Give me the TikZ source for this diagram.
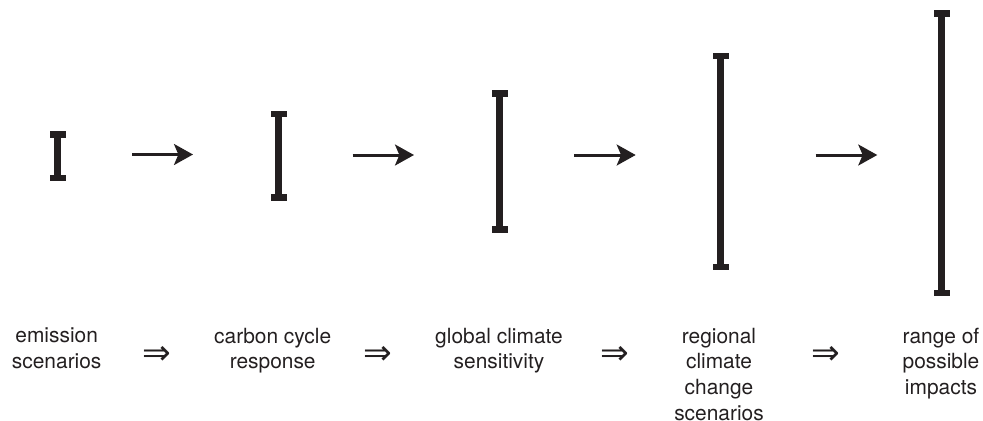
\documentclass[tikz,border=0pt]{standalone}
\usepackage{fontspec}
\setmainfont{TeX Gyre Heros}
\newfontfamily\arrowfont{DejaVu Sans}
\usetikzlibrary{arrows.meta}
\definecolor{ink}{RGB}{35,31,32}
\begin{document}
\begin{tikzpicture}[scale=0.2,
    label/.style={align=center, anchor=north, text=ink, font=\fontsize{11.9}{14.6}\selectfont},
    implies/.style={text=ink, font=\arrowfont\fontsize{19.5}{20}\selectfont},
    flow/.style={ink, line width=1.7pt, -{Stealth[length=10.8pt, width=11.9pt, inset=2.5pt]}}]
            \tikzstyle{every node}+=[inner sep=0pt]
            \useasboundingbox (0,0) rectangle (98.3,-42);
            % error bars: x / top / bottom
            \foreach \x/\t/\b in {5.75/13.1/18.1, 27.87/11.07/20.07, 49.95/9.0/23.27, 72.07/5.27/27.0, 94.17/1.0/29.6} {
                \fill [ink] (\x-0.35,-\t) rectangle (\x+0.35,-\b);
                \fill [ink] (\x-0.8,-\t) rectangle ++(1.6,-0.65);
                \fill [ink] (\x-0.8,-\b) rectangle ++(1.6,0.65);
            }
            % arrows between the bars
            \coordinate (a1s) at (13.2,-15.45);
            \coordinate (a1e) at (19.3,-15.45);
            \coordinate (a2s) at (35.27,-15.5);
            \coordinate (a2e) at (41.4,-15.5);
            \coordinate (a3s) at (57.4,-15.5);
            \coordinate (a3e) at (63.57,-15.5);
            \coordinate (a4s) at (81.57,-15.5);
            \coordinate (a4e) at (87.73,-15.5);
            \draw [flow] (a1s) -- (a1e);
            \draw [flow] (a2s) -- (a2e);
            \draw [flow] (a3s) -- (a3e);
            \draw [flow] (a4s) -- (a4e);
            % labels
            \node [label] (emis) at (5.67,-32.75) {emission\\scenarios};
            \node [label] (carb) at (27.27,-32.75) {carbon cycle\\response};
            \node [label] (sens) at (49.9,-32.75) {global climate\\sensitivity};
            \node [label] (regn) at (71.9,-32.75) {regional\\climate\\change\\scenarios};
            \node [label] (impc) at (94.1,-32.75) {range of\\possible\\impacts};
            \node [implies] (imp1) at (15.7,-35.55) {⇒};
            \node [implies] (imp2) at (37.8,-35.55) {⇒};
            \node [implies] (imp3) at (61.47,-35.55) {⇒};
            \node [implies] (imp4) at (82.55,-35.55) {⇒};
        \end{tikzpicture}
\end{document}
